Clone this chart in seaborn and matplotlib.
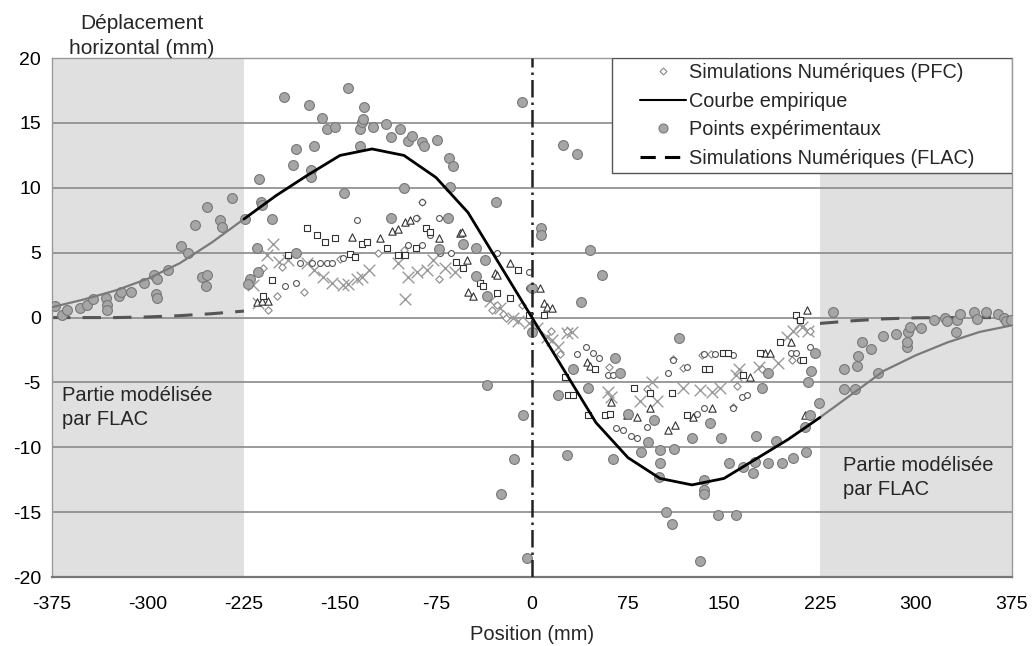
import matplotlib
matplotlib.use("Agg")
import matplotlib.pyplot as plt
from matplotlib.lines import Line2D
from matplotlib.patches import Rectangle
import seaborn as sns

# courbe empirique (mm)
courbe_x = [-375, -350, -325, -300, -275, -250, -225, -200, -175, -150, -125, -100, -75, -50, 0,
            50, 75, 100, 125, 150, 175, 200, 225, 250, 275, 300, 325, 350, 375]
courbe_y = [0.8, 1.4, 2.1, 3.0, 4.2, 5.8, 7.6, 9.4, 11.0, 12.5, 13.0, 12.5, 10.8, 8.1, 0.0,
            -8.1, -10.8, -12.4, -12.9, -12.4, -10.9, -9.4, -7.7, -5.9, -4.1, -2.9, -1.9, -1.1, -0.6]

# simulations FLAC (parties laterales)
flac_gauche_x = [-375, -350, -325, -300, -275, -250, -225]
flac_gauche_y = [0.0, 0.0, 0.0, 0.05, 0.15, 0.3, 0.5]
flac_droite_x = [225, 250, 275, 300, 325, 350, 375]
flac_droite_y = [-0.45, -0.25, -0.1, -0.02, 0.0, 0.0, 0.0]

# points experimentaux
exp_x = [-373, -367, -363, -353, -348, -343, -333, -332, -332, -323, -321, -313, -303, -295, -293,
         -294, -293, -284, -274, -269, -263, -258, -254, -255, -254, -244, -242, -234, -224,
         -213, -212, -211, -203, -215, -214, -220, -222, -194, -187, -184, -174, -173, -173, -170,
         -164, -160, -154, -147, -144, -134, -133, -132, -131, -134, -124, -114, -110, -103, -100,
         -97, -94, -86, -84, -74, -65, -62, -64, -66, -110, -28, -8, 7, 7, -184, -73, -54, -44,
         -37, -44, -35, -35, -7, -14, -24, -4,
         24, 35, 45, 55, 38, 0, 0, 20, 27, 32, 44, 65, 69, 63, 85, 91, 100, 100, 99, 105, 109,
         111, 95, 115, 75, 125, 134, 134, 134, 131, 139, 145, 148, 154, 159, 165, 173, 174, 175,
         180, 184, 184, 191, 195, 204, 214, 213, 217, 216, 218, 221, 224,
         235, 244, 244, 252, 254, 255, 258, 265, 270, 274, 284, 293, 293, 294, 295, 304, 314,
         323, 324, 331, 332, 334, 345, 348, 355, 364, 369, 370, 374]
exp_y = [0.9, 0.2, 0.6, 0.7, 1.0, 1.4, 1.5, 1.0, 0.6, 1.7, 2.0, 2.0, 2.7, 3.3, 3.0,
         1.8, 1.5, 3.7, 5.5, 5.0, 7.1, 3.1, 3.3, 2.4, 8.5, 7.5, 7.0, 9.2, 7.6,
         10.7, 8.9, 8.7, 7.6, 5.4, 3.5, 3.0, 2.6, 17.0, 11.8, 13.0, 16.4, 11.4, 10.8, 13.2,
         15.4, 14.5, 14.7, 9.6, 17.7, 14.5, 15.1, 15.3, 16.2, 13.2, 14.7, 14.9, 13.9, 14.5, 10.0,
         13.6, 14.0, 13.5, 13.2, 13.7, 12.3, 11.7, 10.1, 7.7, 7.7, 8.9, 16.6, 6.9, 6.4, 5.0, 5.3,
         5.7, 5.4, 4.4, 3.2, 1.7, -5.2, -7.5, -10.9, -13.6, -18.5,
         13.3, 12.6, 5.2, 3.3, 1.2, 2.3, -1.1, -6.0, -10.6, -4.0, -5.4, -3.1, -4.3, -10.9, -10.4,
         -9.6, -10.2, -11.2, -12.3, -15.0, -15.9, -10.1, -7.9, -1.6, -7.4, -9.3, -12.5, -13.3,
         -13.6, -18.8, -8.1, -15.2, -9.3, -11.2, -15.2, -11.5, -12.0, -11.1, -9.1, -5.4, -4.3,
         -11.2, -9.5, -11.2, -10.8, -10.4, -8.4, -7.5, -5.0, -4.1, -2.7, -6.6,
         0.4, -4.0, -5.5, -5.5, -3.7, -3.0, -1.9, -2.4, -4.3, -1.4, -1.3, -2.3, -1.9, -1.1, -0.7,
         -0.8, -0.2, 0.0, -0.3, -1.1, -0.2, 0.3, 0.4, -0.1, 0.4, 0.3, 0.0, -0.3, -0.2]

# simulations PFC : plusieurs essais, un symbole par essai
pfc_croix_x = [-218, -214, -207, -202, -198, -191, -176, -170, -163, -156, -148, -144, -137, -133,
               -127, -105, -99, -97, -90, -82, -77, -68, -60, -33, -25, -15, -11, -2, 4, 12, 16,
               20, 27, 31, 59, 62, 84, 94, 98, 118, 131, 141, 147, 159, 162, 177, 192, 199, 204,
               209, 211, 216]
pfc_croix_y = [2.5, 1.1, 4.8, 5.7, 4.3, 4.4, 4.2, 3.7, 3.1, 2.7, 2.5, 2.6, 3.0, 3.1, 3.7, 4.2,
               1.4, 3.1, 3.5, 3.7, 4.4, 3.8, 3.5, 1.3, 0.7, 0.0, -0.3, -0.4, -0.8, -1.5, -1.7,
               -2.3, -1.2, -1.1, -5.7, -6.1, -6.4, -5.0, -6.4, -5.4, -5.6, -5.7, -5.4, -4.4, -4.0,
               -3.8, -3.5, -1.5, -1.0, -0.4, -0.7, -1.0]
pfc_carre_x = [-210, -203, -191, -184, -176, -168, -162, -154, -142, -138, -133, -129, -113, -105,
               -99, -91, -83, -80, -59, -54, -41, -38, -27, -17, -11, -2, 6, 9, 26, 28, 32, 44,
               49, 57, 61, 80, 92, 109, 121, 135, 138, 149, 153, 165, 178, 194, 206, 209, 212]
pfc_carre_y = [1.7, 2.9, 4.8, 5.0, 6.9, 6.4, 5.8, 6.1, 4.9, 4.7, 5.7, 5.8, 5.4, 4.8, 4.8, 5.4,
               6.9, 6.6, 4.3, 3.8, 2.7, 2.4, 1.9, 1.5, 3.7, 0.2, 6.6, 0.2, -4.6, -6.0, -6.0, -7.5,
               -4.0, -7.5, -7.4, -5.4, -5.8, -5.8, -7.5, -4.0, -4.0, -2.7, -2.7, -4.4, -2.7, -1.9,
               0.2, -0.2, -3.3]
pfc_triangle_x = [-215, -211, -206, -141, -119, -109, -105, -99, -95, -73, -56, -55, -51, -50, -46,
                  -29, -27, -17, 6, 9, 12, 16, 43, 45, 62, 74, 82, 92, 106, 112, 126, 141, 170,
                  182, 186, 202, 213, 215]
pfc_triangle_y = [1.2, 1.3, 1.3, 6.2, 6.1, 6.7, 6.8, 7.4, 7.5, 6.1, 6.5, 6.6, 4.4, 2.0, 1.7, 3.4,
                  3.3, 4.2, 2.3, 1.1, 0.8, 0.7, -3.4, -3.7, -6.5, -7.5, -7.7, -7.0, -8.7, -8.3,
                  -7.7, -7.0, -4.6, -2.7, -2.7, -1.9, -7.5, 0.6]
pfc_rond_x = [-193, -184, -181, -172, -166, -160, -156, -148, -137, -97, -91, -86, -86, -80, -73,
              -72, -63, -27, -2, -2, 35, 42, 48, 52, 59, 63, 66, 71, 77, 82, 90, 106, 110, 121,
              129, 134, 134, 143, 157, 157, 164, 168, 202, 206, 209, 217]
pfc_rond_y = [2.4, 2.7, 4.2, 4.2, 4.2, 4.2, 4.2, 4.6, 7.5, 5.6, 7.7, 5.6, 8.9, 6.4, 7.7, 5.0, 5.0,
              5.0, 3.5, 2.3, -2.8, -2.3, -2.7, -3.1, -4.4, -4.4, -8.5, -8.7, -9.1, -9.3, -8.4,
              -4.3, -3.3, -3.8, -7.4, -7.0, -2.8, -2.8, -2.9, -7.0, -6.1, -6.0, -2.7, -2.7, -3.3,
              -2.3]
pfc_losange_x = [-210, -206, -199, -195, -178, -150, -120, -100, -90, -86, -73, -31, -27, -23, -20,
                 -8, 15, 22, 27, 60, 90, 110, 118, 133, 140, 157, 160, 180, 203, 217]
pfc_losange_y = [3.8, 0.6, 1.7, 3.9, 2.0, 4.5, 5.0, 5.2, 7.7, 8.9, 3.0, 0.6, 1.0, 0.3, 0.0, 1.0,
                 -1.0, -2.8, -1.0, -3.8, -5.5, -3.2, -3.9, -2.9, -2.8, -6.9, -5.3, -4.0, -3.3, -1.0]

x_ticks = [-375, -300, -225, -150, -75, 0, 75, 150, 225, 300, 375]
y_ticks = [-20, -15, -10, -5, 0, 5, 10, 15, 20]

sns.set_style("white")
plt.rcParams["font.family"] = ["Liberation Sans", "DejaVu Sans"]
plt.rcParams["axes.unicode_minus"] = False

fig, ax = plt.subplots(figsize=(10.32, 6.46), dpi=100)
fig.subplots_adjust(left=0.0504, right=0.9806, bottom=0.1068, top=0.910)

# zones modelisees par FLAC
ax.axvspan(-375, -225, color="#e0e0e0", lw=0, zorder=0)
ax.axvspan(225, 375, color="#e0e0e0", lw=0, zorder=0)
for yv in y_ticks[1:-1]:
    ax.axhline(yv, color="#8a8a8a", lw=1.2, zorder=0.5)

# FLAC
for fx, fy in [(flac_gauche_x, flac_gauche_y), (flac_droite_x, flac_droite_y)]:
    ax.plot(fx, fy, color="#555555", lw=2.2, linestyle=(0, (6, 4)), zorder=2)

# PFC
sns.scatterplot(x=pfc_croix_x, y=pfc_croix_y, marker="x", s=70, color="#9a9a9a",
                linewidth=1.0, ax=ax, zorder=3)
sns.scatterplot(x=pfc_losange_x, y=pfc_losange_y, marker="D", s=14, facecolor="white",
                edgecolor="#888888", linewidth=0.8, ax=ax, zorder=3)
sns.scatterplot(x=pfc_rond_x, y=pfc_rond_y, marker="o", s=18, facecolor="white",
                edgecolor="#555555", linewidth=0.8, ax=ax, zorder=3)
sns.scatterplot(x=pfc_triangle_x, y=pfc_triangle_y, marker="^", s=28, facecolor="white",
                edgecolor="#333333", linewidth=0.8, ax=ax, zorder=3)
sns.scatterplot(x=pfc_carre_x, y=pfc_carre_y, marker="s", s=24, facecolor="white",
                edgecolor="#333333", linewidth=0.8, ax=ax, zorder=3)

# points experimentaux
sns.scatterplot(x=exp_x, y=exp_y, marker="o", s=50, color="#a6a6a6", edgecolor="#777777",
                linewidth=0.8, ax=ax, zorder=4)

# courbe empirique : grise dans les parties FLAC, noire au centre
i0, i1 = courbe_x.index(-225), courbe_x.index(225)
sns.lineplot(x=courbe_x[:i0 + 1], y=courbe_y[:i0 + 1], color="#7a7a7a", lw=1.6,
             estimator=None, sort=False, ax=ax, zorder=5)
sns.lineplot(x=courbe_x[i1:], y=courbe_y[i1:], color="#7a7a7a", lw=1.6,
             estimator=None, sort=False, ax=ax, zorder=5)
sns.lineplot(x=courbe_x[i0:i1 + 1], y=courbe_y[i0:i1 + 1], color="black", lw=2.0,
             estimator=None, sort=False, ax=ax, zorder=5)

ax.axvline(0, color="#222222", lw=1.8, linestyle=(0, (7, 2, 1, 2)), zorder=6)

ax.text(-367, -5.3, "Partie modélisée\npar FLAC", fontsize=14.5, va="top", ha="left",
        linespacing=1.3, zorder=7)
ax.text(243, -10.7, "Partie modélisée\npar FLAC", fontsize=14.5, va="top", ha="left",
        linespacing=1.3, zorder=7)

ax.set_xlim(-375, 375)
ax.set_ylim(-20, 20)
ax.set_xticks(x_ticks)
ax.set_yticks(y_ticks)
ax.tick_params(axis="both", labelsize=14, colors="black", direction="out",
               length=6, width=1, color="#777777")
ax.tick_params(axis="x", pad=8)
ax.tick_params(axis="y", pad=3, length=5)
for side in ["left", "right", "top"]:
    ax.spines[side].set_color("#9a9a9a")
    ax.spines[side].set_linewidth(1.0)
ax.spines["bottom"].set_color("#777777")
ax.spines["bottom"].set_linewidth(1.6)
ax.set_xlabel("Position (mm)", fontsize=14.5, labelpad=8)
ax.set_ylabel("")
fig.text(142 / 1032, 1 - 36 / 646, "Déplacement\nhorizontal (mm)", fontsize=15,
         ha="center", va="center", linespacing=1.4)

# legende : cadre dessine a part pour garder les grandes marges
ax.add_patch(Rectangle((0.583, 0.778), 0.417, 0.222, transform=ax.transAxes,
                       facecolor="white", edgecolor="#555555", lw=1.0, zorder=9))
handles = [
    Line2D([], [], marker="D", ls="none", markersize=3.5, mfc="white", mec="#888888", mew=0.8),
    Line2D([], [], color="black", lw=1.5),
    Line2D([], [], marker="o", ls="none", markersize=6.5, mfc="#a6a6a6", mec="#7a7a7a", mew=0.8),
    Line2D([], [], color="black", lw=2.2, linestyle=(0, (5, 3))),
]
labels = ["Simulations Numériques (PFC)", "Courbe empirique", "Points expérimentaux",
          "Simulations Numériques (FLAC)"]
leg = ax.legend(handles, labels, loc="upper left", bbox_to_anchor=(0.6125, 0.99),
                borderaxespad=0, borderpad=0, fontsize=14.3, frameon=False,
                handlelength=2.3, handletextpad=0.15, labelspacing=0.48)
leg.set_zorder(10)

fig.savefig("out.png", dpi=100)
